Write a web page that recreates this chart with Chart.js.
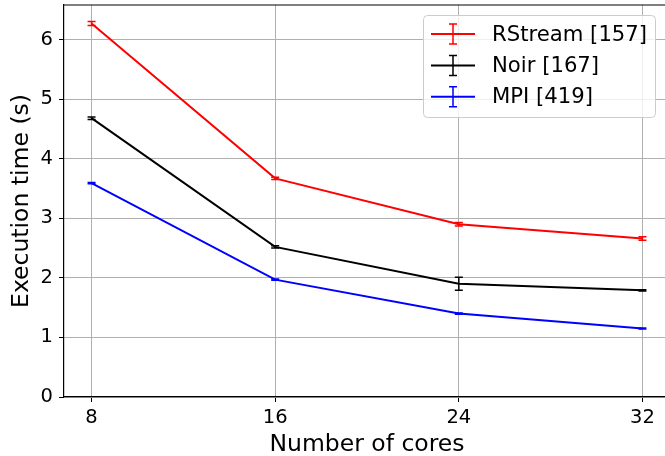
<!DOCTYPE html>
<html>
<head>
<meta charset="utf-8">
<script src="https://cdn.jsdelivr.net/npm/chart.js@4/dist/chart.umd.min.js"></script>
<style>
  html, body { margin: 0; padding: 0; background: #fff; overflow: hidden; }
  #wrap { width: 680px; height: 456px; }
</style>
</head>
<body>
<div id="wrap"><canvas id="myChart" width="680" height="456"></canvas></div>
<script>
// execution time per core count, with error bars
var cores = [8, 16, 24, 32];
var rstreamTime = [6.27, 3.67, 2.90, 2.66];
var rstreamErr = [0.035, 0.02, 0.03, 0.03];
var noirTime = [4.68, 2.52, 1.90, 1.79];
var noirErr = [0.02, 0.02, 0.11, 0.01];
var mpiTime = [3.59, 1.97, 1.40, 1.15];
var mpiErr = [0.01, 0.01, 0.01, 0.01];
var yTicks = [0, 1, 2, 3, 4, 5, 6];

var series = [
  { label: "RStream [157]", values: rstreamTime, err: rstreamErr, color: "#ff0000" },
  { label: "Noir [167]", values: noirTime, err: noirErr, color: "#000000" },
  { label: "MPI [419]", values: mpiTime, err: mpiErr, color: "#0000ff" },
];

var tickFont = { family: "DejaVu Sans", size: 19.5 };
var titleFont = { family: "DejaVu Sans", size: 23.5 };

// vertical error bars with caps
var errorBars = {
  id: "errorBars",
  afterDatasetsDraw: function (chart) {
    var ctx = chart.ctx;
    var xs = chart.scales.x, ys = chart.scales.y;
    ctx.save();
    series.forEach(function (s) {
      ctx.strokeStyle = s.color;
      ctx.lineWidth = 1.5;
      for (var i = 0; i < cores.length; i++) {
        var px = xs.getPixelForValue(cores[i]);
        var top = ys.getPixelForValue(s.values[i] + s.err[i]);
        var bot = ys.getPixelForValue(s.values[i] - s.err[i]);
        ctx.beginPath();
        ctx.moveTo(px, top); ctx.lineTo(px, bot);
        ctx.moveTo(px - 4, top); ctx.lineTo(px + 4, top);
        ctx.moveTo(px - 4, bot); ctx.lineTo(px + 4, bot);
        ctx.stroke();
      }
    });
    ctx.restore();
  },
};

// top spine and matplotlib-like legend box
var frameLegend = {
  id: "frameLegend",
  afterDraw: function (chart) {
    var ctx = chart.ctx;
    var a = chart.chartArea;
    ctx.save();
    ctx.strokeStyle = "#000";
    ctx.lineWidth = 1.2;
    ctx.beginPath();
    ctx.moveTo(a.left, a.top); ctx.lineTo(a.right, a.top); ctx.lineTo(a.right, a.bottom);
    ctx.stroke();

    var bx = 423, by = 15, bw = 232, bh = 102;
    ctx.fillStyle = "rgba(255,255,255,0.8)";
    ctx.strokeStyle = "#cccccc";
    ctx.lineWidth = 1;
    ctx.beginPath();
    ctx.roundRect(bx + 0.5, by + 0.5, bw, bh, 4);
    ctx.fill();
    ctx.stroke();

    ctx.font = "21.2px 'DejaVu Sans'";
    ctx.textBaseline = "middle";
    ctx.textAlign = "left";
    series.forEach(function (s, i) {
      var y = 34 + i * 31.4;
      ctx.strokeStyle = s.color;
      ctx.lineWidth = 2;
      ctx.beginPath();
      ctx.moveTo(431, y); ctx.lineTo(475, y);
      ctx.stroke();
      ctx.lineWidth = 1.5;
      ctx.beginPath();
      ctx.moveTo(453, y - 10); ctx.lineTo(453, y + 10);
      ctx.moveTo(449, y - 10); ctx.lineTo(457, y - 10);
      ctx.moveTo(449, y + 10); ctx.lineTo(457, y + 10);
      ctx.stroke();
      ctx.fillStyle = "#000";
      ctx.fillText(s.label, 492, y + 1);
    });
    ctx.restore();
  },
};

var ctx = document.getElementById("myChart").getContext("2d");
var myChart = new Chart(ctx, {
  type: "line",
  data: {
    datasets: series.map(function (s) {
      return {
        label: s.label,
        data: cores.map(function (c, i) { return { x: c, y: s.values[i] }; }),
        borderColor: s.color,
        backgroundColor: s.color,
        borderWidth: 2,
        pointRadius: 0,
        tension: 0,
      };
    }),
  },
  options: {
    responsive: false,
    animation: false,
    devicePixelRatio: 1,
    layout: { padding: { top: 5, right: 10, left: 0, bottom: 0 } },
    plugins: { legend: { display: false }, tooltip: { enabled: false } },
    scales: {
      x: {
        type: "linear",
        min: 6.8,
        max: 33.2,
        afterBuildTicks: function (s) {
          s.ticks = cores.map(function (v) { return { value: v }; });
        },
        afterFit: function (s) {
          s.height = 59;
          s.paddingLeft = 0;
          s.paddingRight = 0;
        },
        grid: { color: "#b0b0b0", lineWidth: 1, tickColor: "#000", tickLength: 5 },
        border: { color: "#000", width: 1.2 },
        ticks: { color: "#000", font: tickFont, padding: 4, maxRotation: 0 },
        title: {
          display: true,
          text: "Number of cores",
          color: "#000",
          font: titleFont,
          padding: { top: 0, bottom: -3 },
        },
      },
      y: {
        min: 0,
        max: 6.58,
        afterBuildTicks: function (s) {
          s.ticks = yTicks.map(function (v) { return { value: v }; });
        },
        afterFit: function (s) {
          s.width = 64;
          s.paddingTop = 0;
          s.paddingBottom = 0;
        },
        grid: { color: "#b0b0b0", lineWidth: 1, tickColor: "#000", tickLength: 5 },
        border: { color: "#000", width: 1.2 },
        ticks: { color: "#000", font: tickFont, padding: 6 },
        title: {
          display: true,
          text: "Execution time (s)",
          color: "#000",
          font: titleFont,
          padding: { top: 8, bottom: 0 },
        },
      },
    },
  },
  plugins: [errorBars, frameLegend],
});
</script>
</body>
</html>
